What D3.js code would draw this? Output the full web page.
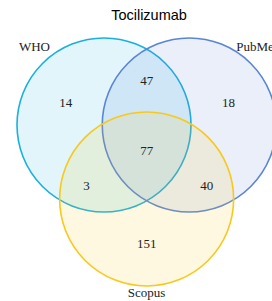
<!DOCTYPE html>
<html>
<head>
<meta charset="utf-8">
<script src="https://cdn.jsdelivr.net/npm/d3@7"></script>
<style>
  body { margin: 0; background: #fff; overflow: hidden; }
  svg { display: block; }
</style>
</head>
<body>
<script>
// Data
const title = "Tocilizumab";
const sets = ["WHO", "PubMed", "Scopus"];
const setColors = ["#1ab0de", "#5a85d5", "#f8c81a"];
// region counts: WHO only, PubMed only, Scopus only, W&P, W&S, P&S, all
const regions = ["W", "P", "S", "WP", "WS", "PS", "WPS"];
const counts = [14, 18, 151, 47, 3, 40, 77];

const w = 272;
const h = 301;

// layout in circle-radius units
const centers = [[0, 0], [0.98, 0], [0.49, 0.85]];
const labelPos = {
  W: [-0.44, -0.26], P: [1.43, -0.26], S: [0.49, 1.36],
  WP: [0.49, -0.51], WS: [-0.2, 0.69], PS: [1.18, 0.69], WPS: [0.49, 0.29]
};
const setLabelPos = [[-0.8, -0.9, "middle"], [1.52, -0.9, "start"], [0.49, 1.92, "middle"]];

// Scales
const xScale = d3.scaleLinear().domain([0, 1]).range([104, 191]);
const yScale = d3.scaleLinear().domain([0, 1]).range([125, 212]);
const r = xScale(1) - xScale(0);

const svg = d3.select("body").append("svg")
  .attr("width", w)
  .attr("height", h);

svg.append("text")
  .attr("x", 149)
  .attr("y", 15)
  .attr("text-anchor", "middle")
  .attr("dominant-baseline", "central")
  .style("font-family", "'Liberation Sans', Arial, sans-serif")
  .style("font-size", "14.5px")
  .text(title);

// circles
svg.selectAll("circle.set")
  .data(sets)
  .enter()
  .append("circle")
  .attr("class", "set")
  .attr("cx", (d, i) => xScale(centers[i][0]))
  .attr("cy", (d, i) => yScale(centers[i][1]))
  .attr("r", r)
  .attr("fill", (d, i) => setColors[i])
  .attr("fill-opacity", 0.13)
  .attr("stroke", (d, i) => setColors[i])
  .attr("stroke-width", 1.6);

// counts
svg.selectAll("text.count")
  .data(regions)
  .enter()
  .append("text")
  .attr("class", "count")
  .attr("x", (d) => xScale(labelPos[d][0]))
  .attr("y", (d) => yScale(labelPos[d][1]))
  .attr("text-anchor", "middle")
  .attr("dominant-baseline", "central")
  .style("font-family", "'Liberation Serif', 'Times New Roman', serif")
  .style("font-size", "13px")
  .style("fill", "#222")
  .text((d, i) => counts[i]);

// set names
svg.selectAll("text.setname")
  .data(sets)
  .enter()
  .append("text")
  .attr("class", "setname")
  .attr("x", (d, i) => xScale(setLabelPos[i][0]))
  .attr("y", (d, i) => yScale(setLabelPos[i][1]))
  .attr("text-anchor", (d, i) => setLabelPos[i][2])
  .attr("dominant-baseline", "central")
  .style("font-family", "'Liberation Serif', 'Times New Roman', serif")
  .style("font-size", "13px")
  .style("fill", "#222")
  .text((d) => d);
</script>
</body>
</html>
